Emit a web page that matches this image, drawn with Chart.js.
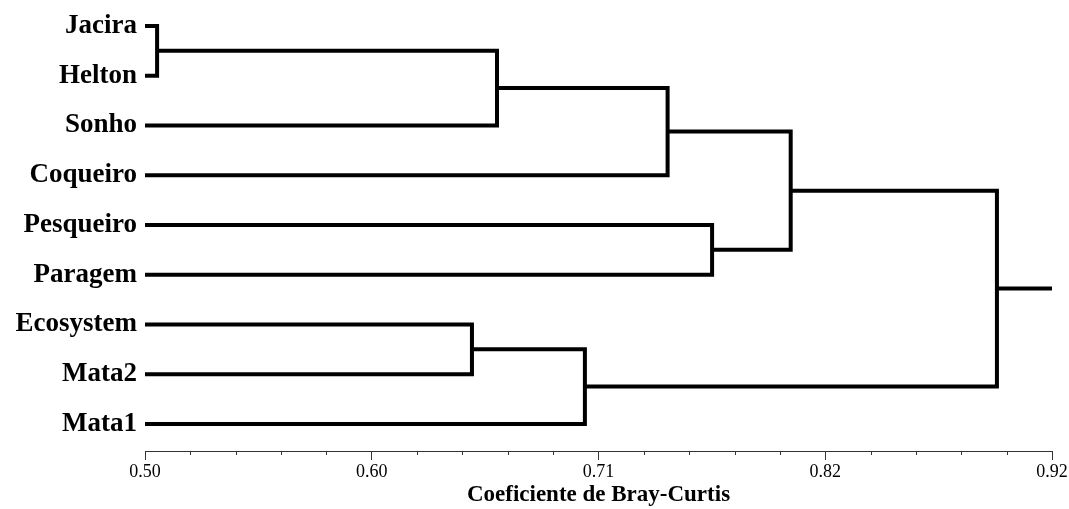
<!DOCTYPE html>
<html>
<head>
<meta charset="utf-8">
<script src="https://cdn.jsdelivr.net/npm/chart.js@4.4.0/dist/chart.umd.min.js"></script>
<style>
  body { margin: 0; background: #fff; }
  #wrap { width: 1069px; height: 509px; position: relative; }
</style>
</head>
<body>
<div id="wrap"><canvas id="dendro"></canvas></div>
<script>
// --- Data ---
const leaves = ['Jacira', 'Helton', 'Sonho', 'Coqueiro', 'Pesqueiro', 'Paragem', 'Ecosystem', 'Mata2', 'Mata1'];
// merges: [childA, childB, height]; node ids continue after the leaves (9, 10, ...)
const merges = [
    [0, 1, 0.5056],
    [9, 2, 0.663],
    [10, 3, 0.742],
    [4, 5, 0.7626],
    [11, 12, 0.799],
    [6, 7, 0.6514],
    [14, 8, 0.7037],
    [13, 15, 0.8945]
];
const leafStart = 0.50;
const rootEnd = 0.92;
const majorTicks = [0.50, 0.605, 0.71, 0.815, 0.92];
const tickLabels = ['0.50', '0.60', '0.71', '0.82', '0.92'];
const minorTicks = [0.521, 0.542, 0.563, 0.584, 0.626, 0.647, 0.668, 0.689,
                    0.731, 0.752, 0.773, 0.794, 0.836, 0.857, 0.878, 0.899];

// --- Build dendrogram segments ---
const nodeY = leaves.map((_, i) => i);
const nodeH = leaves.map(() => leafStart);
const datasets = [];

merges.forEach(([a, b, h]) => {
    datasets.push({
        data: [
            {x: nodeH[a], y: nodeY[a]},
            {x: h, y: nodeY[a]},
            {x: h, y: nodeY[b]},
            {x: nodeH[b], y: nodeY[b]}
        ]
    });
    nodeY.push((nodeY[a] + nodeY[b]) / 2);
    nodeH.push(h);
});

const root = nodeY.length - 1;
datasets.push({
    data: [{x: nodeH[root], y: nodeY[root]}, {x: rootEnd, y: nodeY[root]}]
});

datasets.forEach(ds => {
    ds.type = 'line';
    ds.borderColor = '#000';
    ds.borderWidth = 4;
    ds.pointRadius = 0;
    ds.fill = false;
    ds.tension = 0;
    ds.borderJoinStyle = 'miter';
    ds.borderCapStyle = 'butt';
    ds.clip = false;
});

// --- Minor ticks plugin ---
const minorTickPlugin = {
    id: 'minorTicks',
    afterDraw(chart) {
        const x = chart.scales.x;
        const ctx = chart.ctx;
        ctx.save();
        ctx.strokeStyle = '#333';
        ctx.lineWidth = 1;
        minorTicks.forEach(v => {
            const px = Math.round(x.getPixelForValue(v)) + 0.5;
            ctx.beginPath();
            ctx.moveTo(px, x.top);
            ctx.lineTo(px, x.top + 4);
            ctx.stroke();
        });
        ctx.restore();
    }
};

new Chart(document.getElementById('dendro'), {
    type: 'scatter',
    data: { datasets: datasets },
    options: {
        responsive: true,
        maintainAspectRatio: false,
        animation: false,
        layout: { padding: { top: 1, right: 17, left: 0, bottom: 0 } },
        plugins: { legend: { display: false }, tooltip: { enabled: false } },
        scales: {
            x: {
                type: 'linear',
                min: 0.50,
                max: 0.92,
                afterBuildTicks: s => { s.ticks = majorTicks.map(v => ({value: v})); },
                afterFit: s => { s.height = 58; },
                ticks: {
                    color: '#000',
                    padding: 1,
                    font: { family: 'Liberation Serif', size: 18 },
                    callback: (v, i) => tickLabels[i]
                },
                grid: { drawOnChartArea: false, tickLength: 9, tickColor: '#333', tickWidth: 1 },
                border: { display: true, color: '#333', width: 1 },
                title: {
                    display: true,
                    text: 'Coeficiente de Bray-Curtis',
                    color: '#000',
                    padding: { top: 0, bottom: 0 },
                    font: { family: 'Liberation Serif', size: 23, weight: 'bold' }
                }
            },
            y: {
                type: 'linear',
                reverse: true,
                min: -0.5,
                max: 8.545,
                afterBuildTicks: s => { s.ticks = leaves.map((_, i) => ({value: i})); },
                afterFit: s => { s.width = 145; s.paddingTop = 0; s.paddingBottom = 0; },
                ticks: {
                    color: '#000',
                    padding: 8,
                    font: { family: 'Liberation Serif', size: 27, weight: 'bold' },
                    callback: v => leaves[v]
                },
                grid: { display: false, drawTicks: false },
                border: { display: false }
            }
        }
    },
    plugins: [minorTickPlugin]
});
</script>
</body>
</html>
